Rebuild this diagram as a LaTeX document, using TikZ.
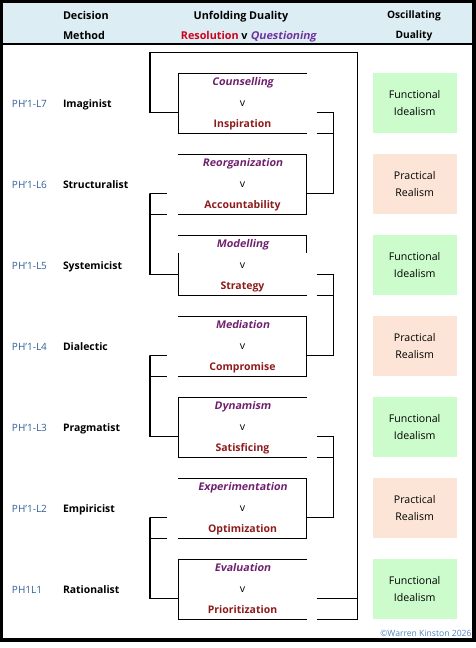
\documentclass[tikz,border=0pt]{standalone}
\usepackage{fontspec}
\setmainfont{Open Sans}
\newfontfamily\oblfont{Open Sans}[FakeSlant=0.18]
\definecolor{hdrfill}{HTML}{DCEEF4}
\definecolor{polec}{HTML}{6E1F6E}
\definecolor{resc}{HTML}{8E1B1B}
\definecolor{labc}{HTML}{2F5E9A}
\definecolor{fgreen}{HTML}{CCFCCC}
\definecolor{ppeach}{HTML}{FCE5D6}
\definecolor{hred}{HTML}{D0021B}
\definecolor{hpurple}{HTML}{7030A0}
\definecolor{copyc}{HTML}{4F81BD}
\begin{document}
\begin{tikzpicture}[x=1pt,y=-1pt,line width=1.1pt,
  every node/.style={inner sep=0pt,outer sep=0pt,font=\fontsize{10.4}{12}\selectfont},
  hdr/.style={font=\fontsize{10.8}{12}\selectfont\bfseries,anchor=base},
  codelab/.style={anchor=base west,text=labc,font=\fontsize{10}{12}\selectfont},
  methodlab/.style={anchor=base west,font=\fontsize{10.4}{12}\selectfont\bfseries},
  dualbox/.style={minimum width=128.4,minimum height=60},
  poletxt/.style={anchor=base,text=polec,font=\fontsize{10.6}{12}\selectfont\oblfont\bfseries},
  restxt/.style={anchor=base,text=resc,font=\fontsize{10.5}{12}\selectfont\bfseries},
  vtxt/.style={anchor=base,text=black,font=\fontsize{10.6}{12}\selectfont},
  oscbox/.style={minimum width=84,minimum height=60,align=center,
    font=\fontsize{10.6}{16.7}\selectfont},
  fidbox/.style={oscbox,fill=fgreen},
  prbox/.style={oscbox,fill=ppeach},
  link/.style={line width=1.1pt}]
\useasboundingbox (0,0) rectangle (476,648);
% header band
\fill[hdrfill] (0,0) rectangle (474,44);
\draw[line width=1.6pt] (0,44) -- (474,44);
\draw[line width=4pt] (0.8,0.8) rectangle (473.8,639.5);
% header texts
\node[hdr,anchor=base west] (hd1) at (63,19.3) {Decision};
\node[hdr,anchor=base west] (hd2) at (63,39) {Method};
\node[hdr] (hu1) at (241,19.3) {Unfolding Duality};
\node[hdr] (hu2) at (248.5,39) {\textcolor{hred}{Resolution} v \textcolor{hpurple}{\oblfont\bfseries Questioning}};
\node[hdr,font=\fontsize{10.2}{12}\selectfont\bfseries] (ho1) at (414,18.3) {Oscillating};
\node[hdr,font=\fontsize{10.2}{12}\selectfont\bfseries] (ho2) at (414,38) {Duality};
% rows
\foreach \i/\code/\meth/\pole/\res/\osc in {
  1/PH’1-L7/Imaginist/Counselling/Inspiration/fidbox,
  2/PH’1-L6/Structuralist/Reorganization/Accountability/prbox,
  3/PH’1-L5/Systemicist/Modelling/Strategy/fidbox,
  4/PH’1-L4/Dialectic/Mediation/Compromise/prbox,
  5/PH’1-L3/Pragmatist/Dynamism/Satisficing/fidbox,
  6/PH’1-L2/Empiricist/Experimentation/Optimization/prbox,
  7/PH1L1/Rationalist/Evaluation/Prioritization/fidbox}{
  \pgfmathsetmacro{\T}{73.3+81*(\i-1)}
  \node[codelab] (c\i) at (12,\T+34) {\code};
  \node[methodlab] (m\i) at (63,\T+34) {\meth};
  \node[dualbox] (b\i) at (242.5,\T+30) {};
  \node[poletxt] (p\i) at (242.5,\T+12.4) {\pole};
  \node[vtxt] (v\i) at (242.5,\T+33.4) {v};
  \node[restxt] (r\i) at (242.5,\T+54.4) {\res};
  \node[\osc] (o\i) at (414.7,\T+30) {\ifnum\i=2 Practical\\Realism\else\ifnum\i=4 Practical\\Realism\else\ifnum\i=6 Practical\\Realism\else Functional\\Idealism\fi\fi\fi};
  % connector levels
  \coordinate (lb\i) at (150,\T+39);
  \coordinate (lc\i) at (150,\T+60);
  \coordinate (ls\i) at (166.7,\T+39);
  \coordinate (lt\i) at (166.7,\T+60);
  \coordinate (rs\i) at (316.7,\T+39);
  \coordinate (rt\i) at (316.7,\T+60);
  \coordinate (rb\i) at (333.3,\T+39);
  \coordinate (rc\i) at (333.3,\T+60);
  \coordinate (bm\i) at (b\i.west |- lb\i);
  \coordinate (em\i) at (b\i.east |- lb\i);
}
% boxes open on the right (odd rows)
\foreach \i in {1,5,7}{
  \draw[link] (b\i.north east) -- (b\i.north west) -- (b\i.south west) -- (b\i.south east);
}
\draw[link] (b3.south east) -- (b3.south west) -- ([yshift=-18]b3.north west);
\draw[link] (b3.north west) -- (b3.north east) -- ([yshift=-18]b3.north east);
% boxes open on the left (even rows)
\foreach \i in {2,4,6}{
  \draw[link] (b\i.north west) -- (b\i.north east) -- (b\i.south east) -- (b\i.south west);
  \draw[link] (lb\i) -- (ls\i);
  \draw[link] (lc\i) -- (lt\i);
}
% right stubs of odd rows
\foreach \i in {1,3,5}{
  \draw[link] (rs\i) -- (rb\i);
  \draw[link] (rt\i) -- (rc\i);
}
% right-side links
\draw[link] (rb1) -- (rb1 |- em2) -- (em2);
\draw[link] (rb3) -- (rb3 |- em4) -- (em4);
\draw[link] (rb5) -- (rb5 |- em6) -- (em6);
% left-side links
\draw[link] (lc2) -- (lb2) -- (lb3) -- (bm3);
\draw[link] (lc4) -- (lb4) -- (lb5) -- (bm5);
\draw[link] (lc6) -- (lb6) -- (lb7) -- (bm7);
% outer loop
\coordinate (tl) at (150,52.3);
\coordinate (tr) at (357.3,52.3);
\draw[link] (bm1) -- (lb1) -- (tl) -- (tr) -- (tr |- rc7) -- (rt7);
\draw[link] (rs7) -- (tr |- rb7);
% copyright
\node[anchor=base east,text=copyc,font=\fontsize{8.6}{10}\selectfont] (cp) at (471.5,636.5) {©Warren Kinston 2026};
\end{tikzpicture}
\end{document}
